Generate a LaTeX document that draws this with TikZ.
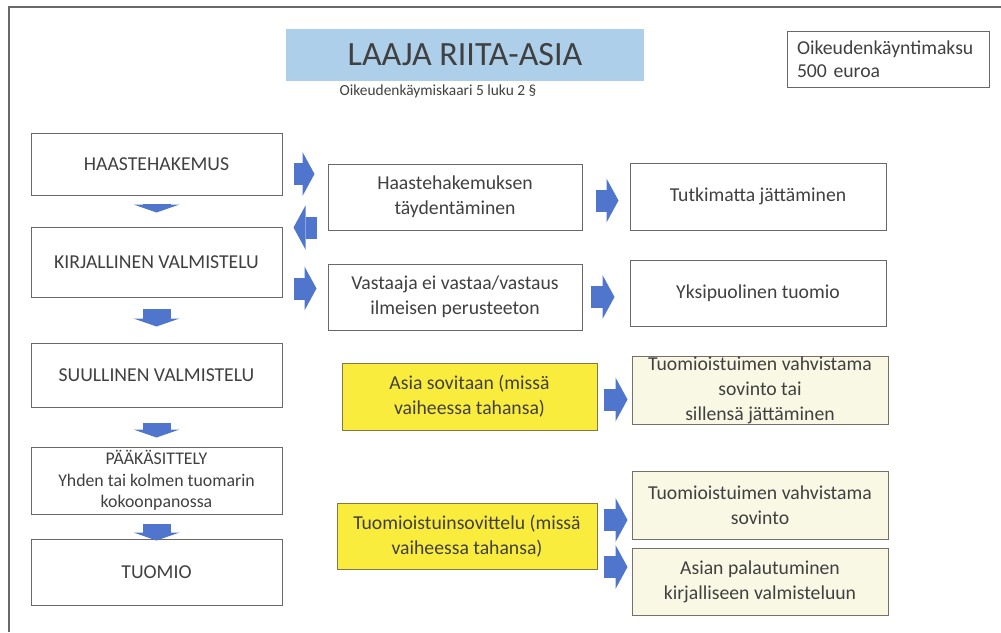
\documentclass[tikz,border=0pt]{standalone}
\usepackage{fontspec}
\setmainfont{Carlito}
\usetikzlibrary{arrows.meta}

\definecolor{arrblue}{RGB}{79,117,205}
\definecolor{titleblue}{RGB}{173,207,234}
\definecolor{txtgray}{RGB}{64,64,64}
\definecolor{boxgray}{RGB}{105,105,105}
\definecolor{yfill}{RGB}{250,236,60}
\definecolor{ybrd}{RGB}{135,118,70}
\definecolor{cfill}{RGB}{249,248,228}
\definecolor{cbrd}{RGB}{120,112,104}

\begin{document}
\begin{tikzpicture}[x=1pt,y=-1pt,
	every node/.style={font=\fontsize{19.7}{25}\selectfont, text=txtgray, align=center, inner sep=0pt},
	wbox/.style={draw=boxgray, line width=1pt, fill=white},
	ybox/.style={draw=ybrd, line width=1pt, fill=yfill},
	cbox/.style={draw=cbrd, line width=1pt, fill=cfill},
	darr/.style={draw=arrblue, line width=28pt, -{Triangle[length=8pt 0 0, width=46pt 0 0, line width=0pt 0 0]}},
	sarr/.style={draw=arrblue, line width=22pt, -{Triangle[length=12pt 0 0, width=44pt 0 0, line width=0pt 0 0]}}]
	\useasboundingbox (0,0) rectangle (1001,632);
	\draw[boxgray, line width=1.5pt] (9,632) -- (9,7) -- (1001,7);
	% otsikko
	\node[fill=titleblue, minimum width=358pt, minimum height=52pt, font=\fontsize{34}{38}\selectfont] (otsikko) at (465,55) {LAAJA RIITA-ASIA};
	\node[font=\fontsize{15.4}{17}\selectfont] (lakiviite) at (438,91) {Oikeudenkäymiskaari 5 luku 2 §};
	\node[wbox, minimum width=202pt, minimum height=56pt, text width=182pt, align=left, font=\fontsize{19.7}{23}\selectfont] (maksu) at (888,59) {Oikeudenkäyntimaksu\\500 euroa};
	% vasen sarake
	\node[wbox, minimum width=251pt, minimum height=62pt] (haaste) at (156.5,164) {HAASTEHAKEMUS};
	\node[wbox, minimum width=251pt, minimum height=70pt] (kirj) at (156.5,262) {KIRJALLINEN VALMISTELU};
	\node[wbox, minimum width=251pt, minimum height=64pt] (suull) at (156.5,375) {SUULLINEN VALMISTELU};
	\node[wbox, minimum width=251pt, minimum height=67pt, font=\fontsize{17.8}{21.5}\selectfont] (paak) at (156.5,480.5) {PÄÄKÄSITTELY\\Yhden tai kolmen tuomarin\\kokoonpanossa};
	\node[wbox, minimum width=251pt, minimum height=66pt] (tuomio) at (156.5,572) {TUOMIO};
	% keskimmainen ja oikea sarake
	\node[wbox, minimum width=254pt, minimum height=66pt] (taydent) at (455,197) {Haastehakemuksen\\täydentäminen};
	\node[wbox, minimum width=254pt, minimum height=66pt] (vastaaja) at (455,297) {Vastaaja ei vastaa/vastaus\\ilmeisen perusteeton};
	\node[wbox, minimum width=256pt, minimum height=67pt] (tutk) at (758,196.5) {Tutkimatta jättäminen};
	\node[wbox, minimum width=256pt, minimum height=66pt] (yks) at (758,293) {Yksipuolinen tuomio};
	% sovinto
	\node[ybox, minimum width=255pt, minimum height=67pt] (sovitaan) at (469.5,396.5) {Asia sovitaan (missä\\vaiheessa tahansa)};
	\node[ybox, minimum width=260pt, minimum height=66pt] (sovittelu) at (467,536) {Tuomioistuinsovittelu (missä\\vaiheessa tahansa)};
	\node[cbox, minimum width=256pt, minimum height=67pt] (vahv1) at (760,390.5) {Tuomioistuimen vahvistama\\sovinto tai\\sillensä jättäminen};
	\node[cbox, minimum width=256pt, minimum height=68pt] (vahv2) at (760,505) {Tuomioistuimen vahvistama\\sovinto};
	\node[cbox, minimum width=256pt, minimum height=67pt] (palaut) at (760,581.5) {Asian palautuminen\\kirjalliseen valmisteluun};
	% nuolet alas
	\draw[darr, shorten <=8pt, shorten >=14pt] (haaste.south) -- (kirj.north);
	\draw[darr, shorten <=11pt, shorten >=16pt] (kirj.south) -- (suull.north);
	\draw[darr, shorten <=15pt, shorten >=9pt] (suull.south) -- (paak.north);
	\draw[darr, shorten <=9pt, shorten >=-2pt] (paak.south) -- (tuomio.north);
	% nuolet sivulle
	\draw[sarr, shorten <=11pt, shorten >=13pt] ([yshift=-10pt]haaste.east) -- ([yshift=-10pt]haaste.east -| taydent.west);
	\draw[sarr, shorten <=11pt, shorten >=11pt] ([yshift=34.5pt]kirj.east -| taydent.west) -- ([yshift=34.5pt]kirj.east);
	\draw[sarr, shorten <=11pt, shorten >=11pt] ([yshift=-26.5pt]kirj.east) -- ([yshift=-26.5pt]kirj.east -| vastaaja.west);
	\draw[sarr, shorten <=13pt, shorten >=11pt] ([yshift=-3.5pt]taydent.east) -- ([yshift=-3.5pt]taydent.east -| tutk.west);
	\draw[sarr, shorten <=8pt, shorten >=15pt] (vastaaja.east) -- (vastaaja.east -| yks.west);
	\draw[sarr, shorten <=6pt, shorten >=4pt] ([yshift=-3pt]sovitaan.east) -- ([yshift=-3pt]sovitaan.east -| vahv1.west);
	\draw[sarr, shorten <=6pt, shorten >=4pt] ([yshift=16pt]sovittelu.east) -- ([yshift=16pt]sovittelu.east -| vahv2.west);
	\draw[sarr, shorten <=6pt, shorten >=4pt] ([yshift=-31pt]sovittelu.east) -- ([yshift=-31pt]sovittelu.east -| palaut.west);
\end{tikzpicture}
\end{document}
